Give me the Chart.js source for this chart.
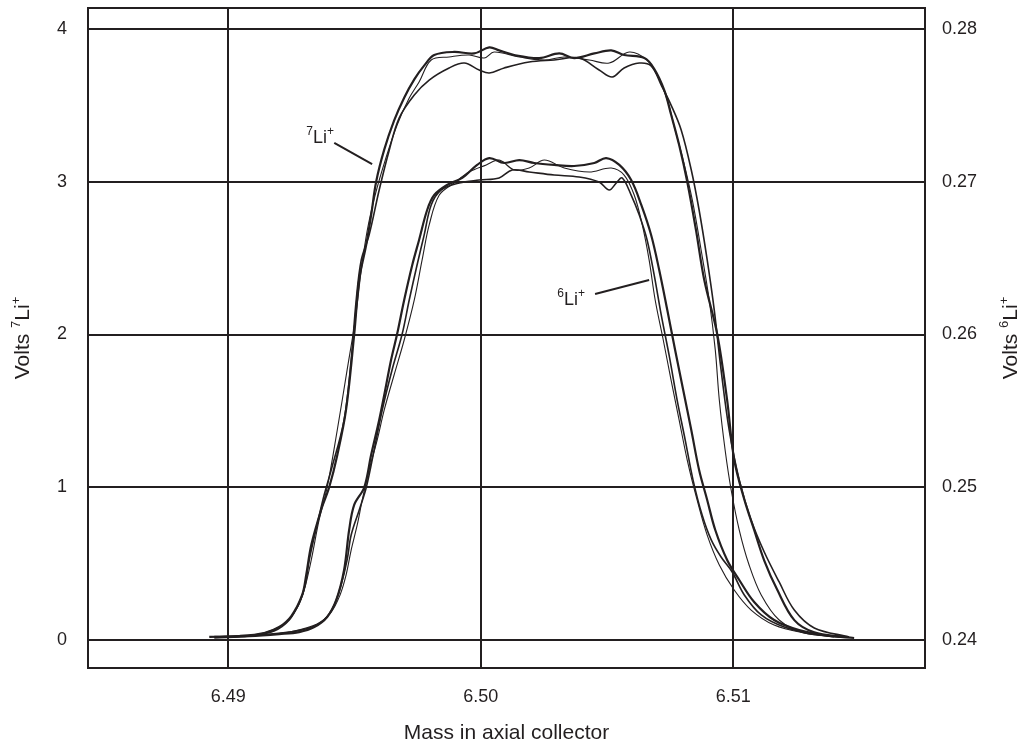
<!DOCTYPE html>
<html>
<head>
<meta charset="utf-8">
<script src="https://cdn.jsdelivr.net/npm/chart.js@4.4.1/dist/chart.umd.min.js"></script>
<style>
html,body{margin:0;padding:0;background:#fff;}
#wrap{width:1019px;height:741px;}
</style>
</head>
<body>
<div id="wrap"><canvas id="c" width="1019" height="741"></canvas></div>
<script>
// ---- data (mass, volts) ----
const X_TICKS = [6.49, 6.50, 6.51];
const Y_LEFT_TICKS = [0, 1, 2, 3, 4];
const Y_RIGHT_TICKS = [0.24, 0.25, 0.26, 0.27, 0.28];
const X_TITLE = "Mass in axial collector";

// 7Li+ scans (left axis, volts)
const li7_scan1 = [[6.48925,0.02],[6.49044,0.026],[6.49143,0.046],[6.49202,0.085],[6.49250,0.157],[6.49293,0.295],[6.49309,0.426],[6.49329,0.622],[6.49368,0.851],[6.49400,1.00],[6.49432,1.21],[6.49467,1.51],[6.49499,2.00],[6.49519,2.36],[6.49547,2.59],[6.49566,2.78],[6.49586,3.00],[6.49618,3.21],[6.49657,3.40],[6.49697,3.55],[6.49737,3.67],[6.49776,3.76],[6.49816,3.83],[6.49895,3.85],[6.49974,3.84],[6.50034,3.88],[6.50073,3.86],[6.50133,3.83],[6.50232,3.81],[6.50311,3.84],[6.50370,3.81],[6.50450,3.84],[6.50517,3.86],[6.50568,3.83],[6.50648,3.81],[6.50687,3.74],[6.50727,3.60],[6.50754,3.44],[6.50786,3.24],[6.50818,3.00],[6.50853,2.68],[6.50885,2.36],[6.50937,2.00],[6.50976,1.57],[6.51004,1.18],[6.51044,0.92],[6.51083,0.72],[6.51123,0.52],[6.51174,0.33],[6.51242,0.13],[6.51321,0.05],[6.51440,0.02]];
const li7_scan2 = [[6.48945,0.013],[6.49083,0.026],[6.49182,0.059],[6.49242,0.131],[6.49281,0.242],[6.49305,0.36],[6.49321,0.524],[6.49352,0.753],[6.49380,0.949],[6.49408,1.113],[6.49459,1.44],[6.49487,1.833],[6.49507,2.226],[6.49527,2.488],[6.49558,2.651],[6.49598,2.946],[6.49638,3.208],[6.49677,3.417],[6.49737,3.568],[6.49796,3.666],[6.49875,3.745],[6.49935,3.777],[6.49994,3.732],[6.50034,3.712],[6.50093,3.745],[6.50192,3.784],[6.50291,3.797],[6.50390,3.810],[6.50469,3.732],[6.50521,3.686],[6.50568,3.745],[6.50628,3.777],[6.50675,3.758],[6.50715,3.633],[6.50754,3.502],[6.50794,3.339],[6.50834,3.077],[6.50865,2.815],[6.50897,2.488],[6.50925,2.160],[6.50952,1.768],[6.50984,1.375],[6.51024,1.047],[6.51071,0.786],[6.51123,0.576],[6.51182,0.380],[6.51242,0.196],[6.51321,0.079],[6.51459,0.02]];
const li7_scan3 = [[6.48984,0.02],[6.49123,0.039],[6.49222,0.105],[6.49273,0.209],[6.49301,0.327],[6.49329,0.524],[6.49360,0.786],[6.49392,1.00],[6.49432,1.375],[6.49471,1.768],[6.49503,2.095],[6.49527,2.422],[6.49551,2.684],[6.49582,2.913],[6.49622,3.142],[6.49669,3.372],[6.49717,3.548],[6.49756,3.653],[6.49804,3.797],[6.49875,3.817],[6.49954,3.830],[6.50014,3.810],[6.50053,3.849],[6.50153,3.817],[6.50252,3.797],[6.50331,3.817],[6.50430,3.797],[6.50509,3.777],[6.50588,3.849],[6.50659,3.797],[6.50699,3.699],[6.50739,3.535],[6.50770,3.339],[6.50802,3.142],[6.50838,2.881],[6.50873,2.553],[6.50905,2.226],[6.50929,1.899],[6.50945,1.571],[6.50968,1.244],[6.50992,0.982],[6.51024,0.720],[6.51063,0.491],[6.51111,0.295],[6.51182,0.131],[6.51281,0.046],[6.51420,0.020]];

// 6Li+ scans (right axis, volts)
const li6_scan1 = [[6.48945,0.24020],[6.49083,0.24026],[6.49202,0.24039],[6.49281,0.24052],[6.49341,0.24085],[6.49392,0.24151],[6.49428,0.24262],[6.49459,0.24458],[6.49479,0.24720],[6.49499,0.24884],[6.49539,0.25000],[6.49566,0.25211],[6.49598,0.25440],[6.49618,0.25604],[6.49645,0.25833],[6.49669,0.26003],[6.49697,0.26226],[6.49729,0.26455],[6.49756,0.26619],[6.49788,0.26815],[6.49816,0.26913],[6.49867,0.26979],[6.49927,0.27025],[6.49986,0.27110],[6.50034,0.27155],[6.50093,0.27123],[6.50153,0.27142],[6.50212,0.27123],[6.50291,0.27110],[6.50370,0.27103],[6.50450,0.27123],[6.50497,0.27155],[6.50549,0.27110],[6.50596,0.27011],[6.50636,0.26848],[6.50675,0.26651],[6.50707,0.26422],[6.50739,0.26160],[6.50770,0.25899],[6.50802,0.25637],[6.50834,0.25375],[6.50865,0.25113],[6.50897,0.24917],[6.50929,0.24720],[6.50976,0.24524],[6.51024,0.24393],[6.51083,0.24249],[6.51162,0.24131],[6.51261,0.24065],[6.51380,0.24026],[6.51479,0.24013]];
const li6_scan2 = [[6.48964,0.24020],[6.49123,0.24033],[6.49242,0.24052],[6.49321,0.24079],[6.49380,0.24131],[6.49420,0.24229],[6.49447,0.24360],[6.49471,0.24524],[6.49487,0.24687],[6.49519,0.24851],[6.49547,0.25000],[6.49578,0.25244],[6.49610,0.25506],[6.49649,0.25768],[6.49689,0.26003],[6.49717,0.26226],[6.49748,0.26455],[6.49776,0.26651],[6.49804,0.26848],[6.49843,0.26946],[6.49915,0.26992],[6.49994,0.27011],[6.50073,0.27025],[6.50125,0.27077],[6.50192,0.27064],[6.50291,0.27044],[6.50390,0.27031],[6.50469,0.26998],[6.50509,0.26946],[6.50537,0.26992],[6.50560,0.27025],[6.50596,0.26913],[6.50628,0.26782],[6.50659,0.26619],[6.50687,0.26390],[6.50715,0.26128],[6.50746,0.25866],[6.50778,0.25571],[6.50810,0.25309],[6.50841,0.25047],[6.50877,0.24818],[6.50913,0.24655],[6.50952,0.24543],[6.50996,0.24445],[6.51044,0.24295],[6.51111,0.24164],[6.51202,0.24085],[6.51321,0.24039],[6.51440,0.24020]];
const li6_scan3 = [[6.48984,0.24020],[6.49143,0.24033],[6.49261,0.24059],[6.49352,0.24105],[6.49408,0.24183],[6.49443,0.24295],[6.49467,0.24426],[6.49487,0.24589],[6.49511,0.24753],[6.49531,0.24917],[6.49558,0.25113],[6.49590,0.25309],[6.49618,0.25506],[6.49657,0.25735],[6.49697,0.25964],[6.49737,0.26226],[6.49768,0.26488],[6.49796,0.26717],[6.49836,0.26913],[6.49895,0.26992],[6.49954,0.27064],[6.50022,0.27110],[6.50073,0.27142],[6.50133,0.27077],[6.50192,0.27090],[6.50252,0.27142],[6.50331,0.27090],[6.50430,0.27064],[6.50517,0.27090],[6.50568,0.27044],[6.50608,0.26913],[6.50640,0.26717],[6.50667,0.26488],[6.50691,0.26226],[6.50723,0.25964],[6.50754,0.25702],[6.50786,0.25440],[6.50818,0.25178],[6.50857,0.24917],[6.50897,0.24687],[6.50945,0.24491],[6.51004,0.24327],[6.51071,0.24196],[6.51162,0.24098],[6.51281,0.24046],[6.51400,0.24020]];

// annotation anchors (mass, left-axis volts)
const LABEL_7LI = {x: 6.49309, y: 3.254, line: [[6.49420, 3.254], [6.49570, 3.116]]};
const LABEL_6LI = {x: 6.50303, y: 2.193, line: [[6.50453, 2.265], [6.50667, 2.357]]};

// ---- rendering ----
const FONT = "'Liberation Sans', Arial, sans-serif";
const INK = '#231f20';
const TICK_SIZE = 18;
const TITLE_SIZE = 21;

function toXY(arr){ return arr.map(p => ({x: p[0], y: p[1]})); }

function ds(arr, axis, w){
  return {data: toXY(arr), yAxisID: axis, borderColor: INK, borderWidth: w,
          pointRadius: 0, tension: 0.35, fill: false};
}

function richWidth(ctx, parts, size){
  let w = 0;
  for (const [t, sup] of parts){
    ctx.font = (sup ? Math.round(size*0.64) : size) + 'px ' + FONT;
    w += ctx.measureText(t).width;
  }
  return w;
}
function richDraw(ctx, parts, size, x, y){
  ctx.textBaseline = 'alphabetic';
  ctx.textAlign = 'left';
  for (const [t, sup] of parts){
    ctx.font = (sup ? Math.round(size*0.64) : size) + 'px ' + FONT;
    ctx.fillText(t, x, sup ? y - size*0.42 : y);
    x += ctx.measureText(t).width;
  }
}

const decor = {
  id: 'decor',
  afterDraw(chart){
    const ctx = chart.ctx, a = chart.chartArea;
    const xs = chart.scales.x, ys = chart.scales.y;
    ctx.save();
    ctx.strokeStyle = INK; ctx.lineWidth = 2;
    ctx.strokeRect(a.left, a.top, a.right - a.left, a.bottom - a.top);
    ctx.fillStyle = INK;
    const ann = [[LABEL_7LI, '7'], [LABEL_6LI, '6']];
    for (const [L, iso] of ann){
      richDraw(ctx, [[iso, true], ['Li', false], ['+', true]], 18,
               xs.getPixelForValue(L.x), ys.getPixelForValue(L.y));
      ctx.beginPath();
      ctx.lineWidth = 2;
      ctx.moveTo(xs.getPixelForValue(L.line[0][0]), ys.getPixelForValue(L.line[0][1]));
      ctx.lineTo(xs.getPixelForValue(L.line[1][0]), ys.getPixelForValue(L.line[1][1]));
      ctx.stroke();
    }
    const cy = (a.top + a.bottom) / 2;
    const titles = [[22, [['Volts ', false], ['7', true], ['Li', false], ['+', true]]],
                    [1010, [['Volts ', false], ['6', true], ['Li', false], ['+', true]]]];
    for (const [cx, parts] of titles){
      const w = richWidth(ctx, parts, TITLE_SIZE);
      ctx.save();
      ctx.translate(cx, cy);
      ctx.rotate(-Math.PI/2);
      richDraw(ctx, parts, TITLE_SIZE, -w/2, 7);
      ctx.restore();
    }
    ctx.font = TITLE_SIZE + 'px ' + FONT;
    ctx.textAlign = 'center';
    ctx.textBaseline = 'alphabetic';
    ctx.fillText(X_TITLE, (a.left + a.right)/2, 739);
    ctx.restore();
  }
};

function noPad(s){ s.paddingTop = 0; s.paddingBottom = 0; s.paddingLeft = 0; s.paddingRight = 0; }

new Chart(document.getElementById('c'), {
  type: 'line',
  data: {
    datasets: [
      ds(li7_scan1, 'y', 2.2), ds(li7_scan2, 'y', 1.6), ds(li7_scan3, 'y', 1.1),
      ds(li6_scan1, 'y2', 2.2), ds(li6_scan2, 'y2', 1.6), ds(li6_scan3, 'y2', 1.1)
    ]
  },
  options: {
    responsive: false,
    animation: false,
    layout: {padding: {top: 8, left: 0, right: 0, bottom: 0}},
    plugins: {legend: {display: false}, tooltip: {enabled: false}},
    scales: {
      x: {
        type: 'linear', min: 6.484448, max: 6.517596,
        afterBuildTicks: s => { s.ticks = X_TICKS.map(v => ({value: v})); },
        afterFit: s => { s.height = 73; noPad(s); },
        grid: {color: INK, lineWidth: 2, drawTicks: false},
        border: {display: false},
        ticks: {padding: 18, color: INK, font: {family: FONT, size: TICK_SIZE},
                callback: v => v.toFixed(2)}
      },
      y: {
        position: 'left', min: -0.1833, max: 4.1375,
        afterBuildTicks: s => { s.ticks = Y_LEFT_TICKS.map(v => ({value: v})); },
        afterFit: s => { s.width = 88; noPad(s); },
        grid: {color: INK, lineWidth: 2, drawTicks: false},
        border: {display: false},
        ticks: {padding: 21, color: INK, font: {family: FONT, size: TICK_SIZE},
                callback: v => String(v)}
      },
      y2: {
        position: 'right', min: 0.238167, max: 0.281375,
        afterBuildTicks: s => { s.ticks = Y_RIGHT_TICKS.map(v => ({value: v})); },
        afterFit: s => { s.width = 94; noPad(s); },
        grid: {display: false, drawTicks: false},
        border: {display: false},
        ticks: {padding: 17, color: INK, font: {family: FONT, size: TICK_SIZE},
                callback: v => v.toFixed(2)}
      }
    }
  },
  plugins: [decor]
});
</script>
</body>
</html>
